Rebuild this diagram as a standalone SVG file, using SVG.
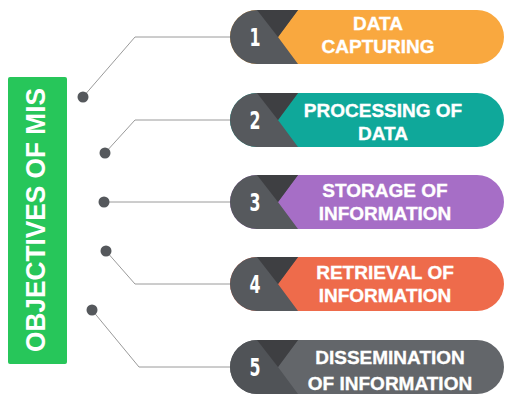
<svg xmlns="http://www.w3.org/2000/svg" width="506" height="394" viewBox="0 0 506 394">
<defs>
<style>
.lbl{font-family:"Liberation Sans",Arial,sans-serif;font-weight:bold;font-size:19px;fill:#fff;stroke:#fff;stroke-width:0.35;text-anchor:middle}
.num{font-family:"Liberation Sans Narrow","DejaVu Sans Condensed","Liberation Sans",sans-serif;font-weight:bold;font-size:25px;fill:#fff;text-anchor:middle}
.left{fill:#56595d}
.tri{fill:#3e3f42}
.wire{fill:none;stroke:#9a9a9a;stroke-width:1}
.dot{fill:#55585c}
</style>
</defs>
<rect width="506" height="394" fill="#ffffff"/>
<g id="title">
<rect x="8" y="77" width="59" height="287" rx="2" fill="#27c65a"/>
<text transform="translate(45,220) rotate(-90)" text-anchor="middle" font-family="Liberation Sans, Arial, sans-serif" font-weight="bold" font-size="27" fill="#fff" textLength="264" lengthAdjust="spacingAndGlyphs">OBJECTIVES OF MIS</text>
</g>
<g id="connectors">
<polyline class="wire" points="83,97 135,37 230,37"/>
<polyline class="wire" points="105,153 135,120 230,120"/>
<polyline class="wire" points="104,202 230,202"/>
<polyline class="wire" points="106,251 135,284 230,284"/>
<polyline class="wire" points="92,310 139,367 230,367"/>
<circle class="dot" cx="83" cy="97" r="5.5"/>
<circle class="dot" cx="105" cy="153" r="5.5"/>
<circle class="dot" cx="104" cy="202" r="5.5"/>
<circle class="dot" cx="106" cy="251" r="5.5"/>
<circle class="dot" cx="92" cy="310" r="5.5"/>
</g>
<g id="item1">
<rect x="230" y="10" width="274" height="54" rx="27" fill="#f9a83f"/>
<path class="left" d="M298,10 L278,37 L298,64 L257,64 A27,27 0 0 1 257,10 Z"/>
<path class="tri" d="M257,10 L298,10 L278,37 Z"/>
<text class="num" x="255" y="46" textLength="11" lengthAdjust="spacingAndGlyphs">1</text>
<text class="lbl" x="378" y="30">DATA</text>
<text class="lbl" x="378" y="53">CAPTURING</text>
</g>
<g id="item2">
<rect x="230" y="93" width="274" height="54" rx="27" fill="#0fa89a"/>
<path class="left" d="M298,93 L278,120 L298,147 L257,147 A27,27 0 0 1 257,93 Z"/>
<path class="tri" d="M257,93 L298,93 L278,120 Z"/>
<text class="num" x="255" y="129" textLength="11" lengthAdjust="spacingAndGlyphs">2</text>
<text class="lbl" x="383" y="117">PROCESSING OF</text>
<text class="lbl" x="383" y="140">DATA</text>
</g>
<g id="item3">
<rect x="230" y="175" width="274" height="54" rx="27" fill="#a66ec6"/>
<path class="left" d="M298,175 L278,202 L298,229 L257,229 A27,27 0 0 1 257,175 Z"/>
<path class="tri" d="M257,175 L298,175 L278,202 Z"/>
<text class="num" x="255" y="211" textLength="11" lengthAdjust="spacingAndGlyphs">3</text>
<text class="lbl" x="385" y="197">STORAGE OF</text>
<text class="lbl" x="385" y="220">INFORMATION</text>
</g>
<g id="item4">
<rect x="230" y="257" width="274" height="54" rx="27" fill="#ee6b4b"/>
<path class="left" d="M298,257 L278,284 L298,311 L257,311 A27,27 0 0 1 257,257 Z"/>
<path class="tri" d="M257,257 L298,257 L278,284 Z"/>
<text class="num" x="255" y="293" textLength="11" lengthAdjust="spacingAndGlyphs">4</text>
<text class="lbl" x="385" y="279">RETRIEVAL OF</text>
<text class="lbl" x="385" y="302">INFORMATION</text>
</g>
<g id="item5">
<rect x="230" y="340" width="274" height="54" rx="27" fill="#63666a"/>
<path d="M298,340 L278,367 L298,394 L257,394 A27,27 0 0 1 257,340 Z" fill="#505357"/>
<path class="tri" d="M257,340 L298,340 L278,367 Z"/>
<text class="num" x="255" y="376" textLength="11" lengthAdjust="spacingAndGlyphs">5</text>
<text class="lbl" x="390" y="364">DISSEMINATION</text>
<text class="lbl" x="390" y="390">OF INFORMATION</text>
</g>
</svg>
